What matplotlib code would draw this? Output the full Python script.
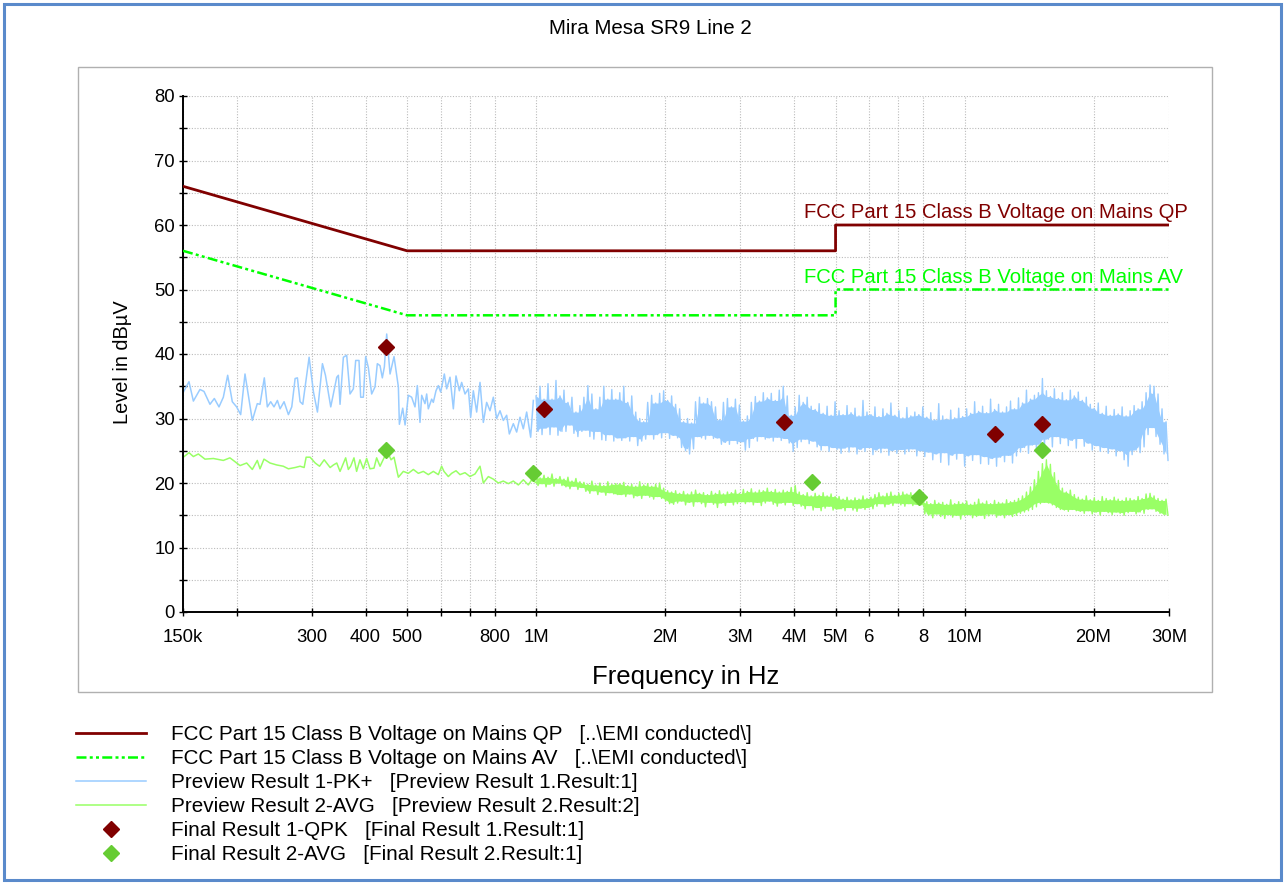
import numpy as np
import matplotlib
matplotlib.use('Agg')
import matplotlib.pyplot as plt
from matplotlib.lines import Line2D
from matplotlib.patches import Rectangle
from matplotlib.ticker import FixedLocator, FixedFormatter, MultipleLocator, NullLocator

plt.rcParams['font.family'] = ['Liberation Sans', 'DejaVu Sans']

# Limit lines (FCC Part 15 Class B, conducted)
qp_f = [150e3, 500e3, 5e6, 5e6, 30e6]
qp_db = [66, 56, 56, 60, 60]
av_f = [150e3, 500e3, 5e6, 5e6, 30e6]
av_db = [56, 46, 46, 50, 50]

# Preview result 1 (PK+), 150 kHz - 1 MHz, kHz / dBuV
pk_f_khz = [150.3, 154.9, 158.6, 164.3, 167.9, 173.4, 177.5, 182.0, 186.3, 190.7,
            195.5, 200.1, 204.5, 209.3, 217.7, 223.6, 226.9, 232.2, 236.0, 240.3,
            244.6, 249.1, 252.7, 258.2, 264.3, 269.1, 274.0, 277.4, 281.4, 285.5,
            295.4, 302.4, 308.9, 317.3, 322.5, 331.8, 342.7, 345.7, 348.8, 355.1,
            361.5, 368.0, 374.7, 379.4, 386.2, 389.7, 395.3, 400.3, 406.1, 413.4,
            420.9, 426.2, 432.4, 437.8, 442.6, 448.2, 456.3, 466.2, 477.2, 479.8,
            488.5, 494.7,
            503.4, 512.5, 521.8, 528.4, 536.0, 540.9, 550.6, 555.6, 560.5, 570.7,
            575.8, 584.1, 591.5, 599.0, 610.9, 618.6, 629.8, 641.2, 650.4, 662.2,
            670.5, 682.7, 695.0, 703.8, 713.9, 726.8, 740.0, 753.3, 766.9, 780.8,
            794.9, 809.3, 823.9, 838.8, 854.0, 866.3, 885.1, 901.1, 917.4, 933.9,
            950.8, 971.5, 985.6]
pk_db = [34.1, 35.7, 32.7, 34.5, 34.2, 32.2, 33.1, 31.8, 33.3, 36.7,
         32.6, 31.8, 30.6, 36.9, 29.7, 32.3, 32.2, 36.3, 31.8, 32.6,
         31.8, 32.8, 31.5, 32.6, 30.6, 31.8, 36.2, 36.3, 32.6, 32.2,
         39.5, 34.1, 31.0, 38.5, 36.7, 31.8, 36.4, 36.7, 32.2, 39.5,
         39.8, 33.8, 34.6, 39.0, 39.0, 33.3, 33.3, 39.6, 37.9, 33.8,
         34.9, 38.5, 38.2, 36.3, 38.0, 43.1, 36.9, 39.6, 34.9, 29.1,
         31.6, 29.0,
         33.6, 33.3, 31.8, 35.1, 29.4, 33.6, 32.3, 33.8, 31.5, 33.0,
         32.5, 34.3, 35.1, 34.1, 36.9, 34.6, 36.4, 31.5, 36.6, 34.3,
         35.6, 33.8, 34.6, 30.2, 34.3, 31.0, 35.6, 29.4, 32.5, 31.2,
         33.3, 30.0, 31.2, 29.7, 30.5, 27.6, 29.2, 27.9, 30.2, 28.4,
         31.0, 27.1, 32.8]

# PK+ above 1 MHz: alternating peaks / dips of the dense sweep
pk_hi = [33.5, 35.0, 33.0, 35.4, 33.0, 35.9, 33.5, 34.4, 32.5, 33.3, 31.0, 32.0,
         33.3, 35.1, 33.8, 31.5, 33.3, 35.0, 33.0, 34.5, 33.0, 34.0, 35.0, 32.5, 33.5,
         31.0, 30.0, 29.5,
         32.5, 33.6, 32.4, 33.9, 34.3, 32.8, 33.5, 32.2, 31.5, 29.5, 30.0, 29.3,
         32.6, 33.3, 32.4, 33.1, 32.6, 31.8, 29.8, 32.5, 33.1, 31.8, 33.0, 32.1,
         29.6, 30.4,
         32.5, 33.4, 32.7, 34.0, 33.2, 33.9, 32.8, 34.4, 35.0, 33.5, 30.5, 31.8,
         33.6, 32.5, 33.3, 31.9,
         31.4, 32.3, 30.8, 31.9, 30.5, 32.6, 31.2, 30.6, 32.0, 30.9, 31.6, 30.4, 32.8,
         31.0, 30.6, 31.8, 30.3, 31.5, 30.8, 32.4, 30.5, 31.2, 30.1, 31.7, 30.4, 31.0,
         30.6,
         31.8, 30.2, 30.9, 29.8, 32.3, 30.4, 29.9, 31.3, 30.1, 31.6, 30.3,
         31.5, 30.8, 32.6, 31.1, 31.9, 30.9, 33.0, 31.4, 32.2, 31.0, 31.8, 32.7, 31.5,
         33.2, 32.4, 34.4, 33.0, 33.6, 34.0, 36.2,
         34.3, 33.4, 34.6, 33.1, 34.0, 32.9, 34.4, 33.5, 34.1, 32.8, 33.3, 32.2,
         31.6, 32.4, 30.8, 31.9, 30.5, 31.4, 30.7, 31.8, 30.4, 31.2, 32.0, 31.5, 32.6,
         34.0, 35.2, 35.0, 33.8, 31.5, 29.5]
pk_lo = [28.0, 27.5, 28.5, 27.5, 28.7, 27.4, 28.0, 28.0, 29.0, 27.7, 27.2, 28.0,
         28.2, 27.2, 26.8, 28.0, 26.7, 26.6, 27.5, 26.5, 27.0, 26.6, 27.0, 26.5, 27.2,
         25.8, 26.5, 26.8,
         27.5, 26.8, 27.5, 27.0, 27.8, 26.9, 27.4, 27.0, 25.5, 25.0, 24.5, 25.3,
         27.2, 27.0, 26.8, 27.4, 26.9, 27.0, 26.0, 26.3, 26.0, 26.6, 26.1, 26.4,
         25.1, 25.5,
         26.9, 26.5, 27.2, 26.8, 27.0, 26.5, 27.1, 26.6, 26.9, 26.2, 24.9, 25.5,
         26.4, 26.8, 26.1, 26.5,
         25.6, 25.1, 25.8, 24.9, 25.5, 25.2, 24.6, 25.4, 24.8, 25.6, 24.5, 25.2, 24.9,
         25.5, 24.4, 25.1, 24.7, 25.4, 24.3, 25.0, 24.6, 25.2, 24.5, 24.9, 25.3, 24.2,
         25.0,
         24.1, 24.8, 23.6, 24.5, 23.2, 24.7, 22.8, 24.3, 23.7, 24.6, 22.6,
         24.2, 23.5, 24.4, 23.0, 24.1, 22.9, 23.8, 22.6, 24.0, 23.3, 24.3, 23.1, 24.2,
         24.8, 25.5, 24.6, 25.9, 25.2, 26.0, 25.5,
         26.8, 25.6, 27.2, 26.1, 27.0, 25.8, 26.6, 25.4, 26.9, 25.7, 26.2, 25.1,
         25.8, 24.9, 25.5, 24.6, 25.3, 24.2, 25.0, 23.6, 22.6, 24.4, 25.1, 24.7, 25.6,
         27.5, 28.6, 27.2, 26.0, 24.5, 23.5]

# Preview result 2 (AVG), 150 kHz - 1 MHz
avg_f_khz = [150.3, 154.9, 158.6, 162.9, 168.8, 176.6, 186.3, 193.0, 196.6, 203.8,
             211.2, 217.7, 223.6, 226.9, 231.8, 239.4, 248.1, 257.1, 264.3, 274.0,
             281.4, 287.6, 290.7, 297.0, 305.2, 312.4, 320.3, 330.7, 336.7, 342.7,
             348.8, 359.5, 364.7, 369.3, 375.9, 381.3, 388.2, 395.3, 402.4, 409.7,
             418.6, 424.6, 432.4, 441.8, 449.8, 458.8, 466.2, 474.6, 477.2,
             490.1, 503.4, 517.2, 531.3, 545.7, 560.5, 575.8, 591.5, 602.1, 609.7,
             624.1, 635.4, 650.4, 664.5, 682.7, 701.2, 720.3, 740.0, 753.3, 773.9,
             794.9, 816.5, 838.8, 861.6, 885.0, 909.2, 933.9, 959.4, 976.8, 1003.3]
avg_db = [24.0, 24.7, 24.1, 24.5, 23.7, 23.8, 23.5, 23.9, 23.5, 22.7,
          23.1, 22.1, 23.5, 22.2, 23.7, 23.1, 22.8, 22.6, 22.2, 22.4,
          22.6, 22.4, 24.0, 24.0, 23.1, 22.6, 23.6, 22.4, 22.8, 23.1,
          21.8, 23.9, 22.1, 22.6, 23.9, 21.8, 23.6, 22.2, 23.8, 22.2,
          22.3, 23.9, 22.6, 23.9, 24.9, 23.6, 24.0, 21.6, 20.9,
          21.8, 21.5, 22.1, 21.5, 21.8, 21.3, 21.8, 21.3, 22.6, 21.8,
          21.0, 21.5, 21.9, 21.3, 21.6, 21.0, 21.4, 22.6, 20.0, 21.0,
          20.6, 20.0, 20.3, 19.9, 20.3, 19.7, 20.5, 19.7, 20.5, 20.0]

# AVG above 1 MHz: alternating peaks / dips of the dense sweep
avg_hi = [21.3, 20.8, 21.2, 20.9, 21.4, 20.7, 21.0, 20.6, 20.9, 20.3, 20.7, 20.2,
          20.1, 19.8, 20.3, 19.7, 20.0, 19.6, 20.2, 19.8, 19.9,
          19.9, 20.1, 19.6, 19.8, 19.5, 20.2, 19.7, 19.9, 19.5, 19.8, 20.0,
          19.2, 18.8, 18.6,
          18.8, 18.4, 18.7, 18.3, 18.6, 18.9, 18.4, 18.5, 18.2, 18.7, 18.4, 18.8,
          18.3, 18.6, 18.5, 18.9, 18.4,
          19.0, 18.7, 19.1, 18.6, 18.9, 18.8, 19.2, 18.7, 19.0, 18.6, 18.9, 18.7,
          19.3, 19.6,
          18.6, 18.2, 18.5, 18.0, 18.4, 18.1, 18.5, 18.0, 18.3, 17.9,
          17.9, 17.5, 17.8, 17.4, 17.7, 17.5, 18.0, 17.6, 17.8,
          18.2, 18.5, 18.0, 18.4, 18.6, 18.1, 18.4, 18.6, 18.3, 18.5, 18.2, 18.6,
          18.3,
          17.1, 16.8, 17.3, 16.9, 17.0, 16.7, 17.4, 16.8, 17.1, 16.9, 17.2, 16.7,
          17.0, 17.5, 16.9, 17.2, 16.8, 17.3, 17.0, 16.9, 17.4, 17.1, 17.3, 17.6,
          18.0, 18.6, 19.4,
          20.5, 21.8, 23.0, 23.6, 22.9, 21.6, 20.4,
          19.2, 18.6, 18.9, 18.2,
          17.8, 17.5, 18.0, 17.4, 17.7, 17.3, 17.9, 17.6, 17.4, 17.8, 17.5, 17.3,
          17.7, 17.6, 17.4, 17.9, 17.6, 18.3, 18.4, 18.0, 17.6, 17.3, 17.5]
avg_lo = [19.6, 19.9, 19.4, 19.8, 19.5, 20.0, 19.6, 19.4, 19.1, 19.5, 19.0, 19.3,
          18.7, 18.4, 18.8, 18.2, 18.6, 18.1, 18.5, 18.3, 18.2,
          18.2, 17.9, 18.3, 17.7, 18.0, 17.6, 18.1, 17.8, 17.5, 17.9, 17.6,
          17.2, 16.8, 16.7,
          16.9, 17.2, 16.6, 17.0, 16.4, 17.1, 16.8, 16.3, 17.0, 16.7, 16.2, 16.9,
          16.5, 17.0, 16.6, 16.8, 17.1,
          16.8, 17.1, 16.6, 17.0, 16.5, 16.9, 17.2, 16.7, 16.4, 16.9, 16.6, 17.0,
          16.5, 16.8,
          16.4, 16.0, 16.5, 15.8, 16.2, 15.7, 16.1, 16.4, 15.8, 16.0,
          16.0, 15.7, 16.2, 15.8, 15.6, 16.1, 15.9, 16.2, 16.0,
          16.4, 16.8, 16.3, 16.7, 16.5, 16.9, 16.6, 16.4, 16.8, 16.5, 16.7, 16.6,
          15.2,
          15.0, 14.6, 15.2, 14.8, 14.5, 15.1, 14.7, 15.0, 14.4, 14.9, 15.1, 14.6,
          14.8, 15.0, 14.5, 14.9, 15.2, 14.7, 15.0, 14.6, 15.1, 14.8, 15.0, 15.3,
          15.5, 15.7, 15.9,
          16.3, 16.8, 17.0, 16.9, 16.6, 16.2, 15.9,
          15.8, 15.6, 15.9, 15.7,
          15.6, 15.3, 15.7, 15.2, 15.5, 15.0, 15.6, 15.4, 15.1, 15.5, 15.3, 15.0,
          15.4, 15.6, 15.2, 15.5, 15.3, 15.9, 16.0, 15.6, 15.3, 15.1, 15.0]

# Final results
qpk_f = [446e3, 1.043e6, 3.79e6, 11.8e6, 15.2e6]
qpk_db = [41.1, 31.5, 29.5, 27.6, 29.1]
avgr_f = [446e3, 0.984e6, 4.4e6, 7.83e6, 15.2e6]
avgr_db = [25.1, 21.6, 20.2, 17.8, 25.1]

xtick_f = [150e3, 200e3, 300e3, 400e3, 500e3, 600e3, 700e3, 800e3, 1e6,
           2e6, 3e6, 4e6, 5e6, 6e6, 7e6, 8e6, 10e6, 20e6, 30e6]
xtick_lbl = ['150k', '', '300', '400', '500', '', '', '800', '1M',
             '2M', '3M', '4M', '5M', '6', '', '8', '10M', '20M', '30M']

legend_lbl = ['FCC Part 15 Class B Voltage on Mains QP   [..\\EMI conducted\\]',
              'FCC Part 15 Class B Voltage on Mains AV   [..\\EMI conducted\\]',
              'Preview Result 1-PK+   [Preview Result 1.Result:1]',
              'Preview Result 2-AVG   [Preview Result 2.Result:2]',
              'Final Result 1-QPK   [Final Result 1.Result:1]',
              'Final Result 2-AVG   [Final Result 2.Result:1]']

c_qp = '#800000'
c_av = '#00FF00'
c_pk = '#99CCFF'
c_avg = '#99FF66'
c_avgm = '#66CC33'
av_dash = (4, 1.3, 1.2, 1.3, 1.2, 1.3)


def sweep_core(hi, lo):
    # solid middle of the dense sweep: the lowest neighbouring peak down to
    # the highest neighbouring dip
    hi = np.asarray(hi)
    lo = np.asarray(lo)
    hp = np.pad(hi, 1, mode='edge')
    lp = np.pad(lo, 1, mode='edge')
    top = np.minimum(np.minimum(hp[:-2], hp[1:-1]), hp[2:])
    bot = np.maximum(np.maximum(lp[:-2], lp[1:-1]), lp[2:])
    return bot, np.maximum(top, bot)


fig = plt.figure(figsize=(12.85, 8.83), dpi=100)
fig.patches.append(Rectangle((0.003, 0.003), 0.994, 0.993, transform=fig.transFigure,
                             fill=False, edgecolor='#5A8ACB', lw=2.2))
fig.patches.append(Rectangle((78 / 1285, 191 / 883), 1134 / 1285, 625 / 883,
                             transform=fig.transFigure, fill=False,
                             edgecolor='#B0B0B0', lw=1.0))

ax = fig.add_axes([183 / 1285, 271 / 883, 986 / 1285, 516 / 883])

# preview traces: sparse part as a line, dense part as a zig-zag sweep
ax.plot(np.array(pk_f_khz) * 1e3, pk_db, color=c_pk, lw=1.1, zorder=2)
ax.plot(np.array(avg_f_khz) * 1e3, avg_db, color=c_avg, lw=1.1, zorder=2)
sweep_f = np.geomspace(1.0e6, 29.84e6, 2 * len(pk_hi))
for hi, lo, col in [(pk_hi, pk_lo, c_pk), (avg_hi, avg_lo, c_avg)]:
    ax.plot(sweep_f, np.column_stack([hi, lo]).ravel(), color=col, lw=1.0, zorder=2)
    bot, top = sweep_core(hi, lo)
    ax.fill_between(sweep_f[::2], bot, top, color=col, lw=0, zorder=2)

# limits
ax.plot(qp_f, qp_db, color=c_qp, lw=2.0, zorder=3)
ax.plot(av_f, av_db, color=c_av, lw=1.8, dashes=av_dash, zorder=3)
ax.text(4.22e6, 61.9, 'FCC Part 15 Class B Voltage on Mains QP', color=c_qp,
        fontsize=14.6, ha='left', va='center')
ax.text(4.22e6, 51.9, 'FCC Part 15 Class B Voltage on Mains AV', color=c_av,
        fontsize=14.6, ha='left', va='center')

# final results
ax.plot(qpk_f, qpk_db, ls='none', marker='D', ms=8.4, color=c_qp, zorder=5)
ax.plot(avgr_f, avgr_db, ls='none', marker='D', ms=8.4, color=c_avgm, zorder=5)

ax.set_xscale('log')
ax.set_xlim(150e3, 30e6)
ax.set_ylim(0, 80)
ax.xaxis.set_major_locator(FixedLocator(xtick_f))
ax.xaxis.set_major_formatter(FixedFormatter(xtick_lbl))
ax.xaxis.set_minor_locator(NullLocator())
ax.yaxis.set_major_locator(MultipleLocator(10))
ax.yaxis.set_minor_locator(MultipleLocator(5))
ax.grid(True, axis='y', which='both', ls=(0, (1, 1.5)), color='#BBBBBB', lw=0.8)
ax.grid(True, axis='x', which='major', ls=(0, (1, 1.5)), color='#BBBBBB', lw=0.8)
ax.set_axisbelow(True)
for s in ['top', 'right']:
    ax.spines[s].set_visible(False)
for s in ['left', 'bottom']:
    ax.spines[s].set_linewidth(1.4)
    ax.spines[s].set_color('black')
ax.tick_params(axis='both', which='both', direction='inout', length=6, width=1.0,
               labelsize=13.3)
ax.tick_params(axis='x', pad=9.6)
ax.tick_params(axis='y', pad=2.8)

fig.text(650 / 1285, 1 - 28 / 883, 'Mira Mesa SR9 Line 2', ha='center', va='center',
         fontsize=14.8)
fig.text(686 / 1285, 1 - 677 / 883, 'Frequency in Hz', ha='center', va='center',
         fontsize=18.5)
fig.text(122 / 1285, 1 - 362 / 883, 'Level in dB\u00b5V', ha='center', va='center',
         rotation=90, fontsize=14.4)

handles = [Line2D([], [], color=c_qp, lw=2.0),
           Line2D([], [], color=c_av, lw=1.8, dashes=av_dash),
           Line2D([], [], color=c_pk, lw=1.1),
           Line2D([], [], color=c_avg, lw=1.1),
           Line2D([], [], ls='none', marker='D', ms=8.4, color=c_qp),
           Line2D([], [], ls='none', marker='D', ms=8.4, color=c_avgm)]
fig.legend(handles, legend_lbl, loc='upper left', bbox_to_anchor=(76 / 1285, 1 - 725 / 883),
           frameon=False, fontsize=14.9, handlelength=3.38, handletextpad=1.2,
           labelspacing=0.24, borderpad=0, borderaxespad=0)

fig.savefig('out.png', dpi=100)
